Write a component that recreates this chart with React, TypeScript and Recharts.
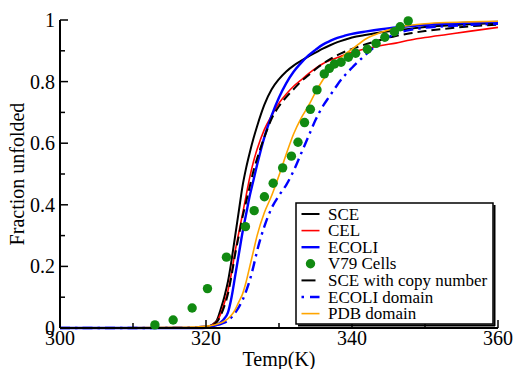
import React from 'react';
import { ComposedChart, Line, Scatter, XAxis, YAxis, Legend } from 'recharts';

const TEMPS = [300, 310, 316, 318, 319, 320, 320.5, 321, 321.5, 322, 322.5, 323, 323.5, 324, 324.5, 325, 325.5, 326, 326.5, 327, 328, 329, 330, 331, 332, 333, 334, 335, 336, 337, 338, 339, 340, 342, 344, 346, 348, 350, 353, 356, 360];

const SCE = [0, 0, 0, 0, 0.001, 0.003, 0.007, 0.013, 0.025, 0.06, 0.1, 0.15, 0.22, 0.3, 0.38, 0.46, 0.52, 0.57, 0.615, 0.655, 0.725, 0.775, 0.808, 0.833, 0.852, 0.867, 0.881, 0.894, 0.907, 0.918, 0.928, 0.936, 0.943, 0.952, 0.96, 0.966, 0.972, 0.977, 0.982, 0.986, 0.99];
const CEL = [0, 0, 0, 0, 0.001, 0.003, 0.006, 0.012, 0.022, 0.045, 0.08, 0.12, 0.18, 0.25, 0.31, 0.37, 0.43, 0.49, 0.54, 0.58, 0.645, 0.69, 0.73, 0.76, 0.785, 0.805, 0.825, 0.843, 0.858, 0.869, 0.878, 0.887, 0.895, 0.907, 0.917, 0.925, 0.935, 0.943, 0.953, 0.963, 0.976];
const ECOLI = [0, 0, 0, 0, 0, 0.001, 0.003, 0.006, 0.01, 0.018, 0.03, 0.05, 0.1, 0.17, 0.24, 0.31, 0.37, 0.43, 0.48, 0.53, 0.62, 0.69, 0.748, 0.795, 0.832, 0.86, 0.884, 0.903, 0.92, 0.932, 0.942, 0.949, 0.955, 0.963, 0.97, 0.976, 0.98, 0.984, 0.988, 0.991, 0.994];
const SCE_COPY = [0, 0, 0, 0, 0.001, 0.002, 0.005, 0.01, 0.02, 0.04, 0.07, 0.11, 0.17, 0.24, 0.3, 0.36, 0.41, 0.46, 0.51, 0.55, 0.62, 0.68, 0.72, 0.75, 0.775, 0.8, 0.82, 0.84, 0.858, 0.873, 0.886, 0.897, 0.906, 0.922, 0.936, 0.948, 0.957, 0.964, 0.972, 0.979, 0.985];
const ECOLI_DOMAIN = [0, 0, 0.001, 0.002, 0.003, 0.005, 0.006, 0.008, 0.01, 0.013, 0.017, 0.024, 0.035, 0.05, 0.068, 0.09, 0.12, 0.155, 0.2, 0.25, 0.33, 0.39, 0.43, 0.465, 0.51, 0.565, 0.62, 0.675, 0.72, 0.755, 0.79, 0.82, 0.845, 0.89, 0.93, 0.955, 0.968, 0.975, 0.98, 0.984, 0.988];
const PDB_DOMAIN = [0, 0.001, 0.002, 0.003, 0.004, 0.006, 0.007, 0.009, 0.012, 0.016, 0.022, 0.03, 0.042, 0.06, 0.085, 0.11, 0.15, 0.2, 0.25, 0.3, 0.375, 0.43, 0.495, 0.565, 0.63, 0.68, 0.72, 0.765, 0.805, 0.838, 0.865, 0.888, 0.905, 0.94, 0.96, 0.975, 0.983, 0.988, 0.992, 0.994, 0.996];

const V79_T = [313.0, 315.5, 318.1, 320.2, 322.8, 325.4, 326.6, 328.0, 329.2, 330.5, 331.7, 332.6, 333.5, 334.3, 335.2, 336.2, 336.9, 337.6, 338.5, 339.5, 340.5, 342.1, 343.3, 344.5, 345.8, 346.6, 347.7];
const V79_F = [0.01, 0.026, 0.065, 0.128, 0.23, 0.329, 0.381, 0.426, 0.47, 0.52, 0.558, 0.603, 0.667, 0.71, 0.773, 0.825, 0.843, 0.857, 0.863, 0.879, 0.892, 0.905, 0.924, 0.944, 0.962, 0.978, 0.997];

const X_TICKS = [300, 310, 320, 330, 340, 350, 360];
const Y_TICKS = [0, 0.1, 0.2, 0.3, 0.4, 0.5, 0.6, 0.7, 0.8, 0.9, 1];

const SERIES_NAMES = ['SCE', 'CEL', 'ECOLI', 'V79 Cells', 'SCE with copy number', 'ECOLI domain', 'PDB domain'];
const SERIES_COLORS = ['#000000', '#ff0000', '#0000ff', '#118a11', '#000000', '#0000ff', '#ffa500'];
const SERIES_WIDTHS = [2, 1.6, 2.4, 0, 2, 2.4, 1.6];
const SERIES_DASH = ['', '', '', '', '9 5', '10 5 2.5 5', ''];
const LEGEND_DASH = ['', '', '', '', '14 10', '2.5 6 10 5', ''];

const FONT = "'Liberation Serif', 'DejaVu Serif', serif";
const TXT = { fontFamily: FONT };

const rows = TEMPS.map((t, i) => ({
  t,
  sce: SCE[i],
  cel: CEL[i],
  ecoli: ECOLI[i],
  sceCopy: SCE_COPY[i],
  ecoliDomain: ECOLI_DOMAIN[i],
  pdb: PDB_DOMAIN[i],
}));

const v79 = V79_T.map((t, i) => ({ t, f: V79_F[i] }));

const isMajorX = (v: number) => Math.round(v) % 20 === 0;
const isMajorY = (v: number) => Math.round(v * 10) % 2 === 0;

const BottomTick = (props: any) => {
  const { x, y, payload } = props;
  const v = payload.value;
  const major = isMajorX(v);
  return (
    <g>
      <line x1={x} y1={y} x2={x} y2={y - (major ? 8 : 5)} stroke="#000" strokeWidth={1.5} />
      {major && (
        <text x={x} y={y + 17} textAnchor="middle" fontSize={20} style={TXT} fill="#000">
          {v}
        </text>
      )}
    </g>
  );
};

const TopTick = (props: any) => {
  const { x, y, payload } = props;
  const major = isMajorX(payload.value);
  return <line x1={x} y1={y} x2={x} y2={y + (major ? 8 : 5)} stroke="#000" strokeWidth={1.5} />;
};

const LeftTick = (props: any) => {
  const { x, y, payload } = props;
  const v = payload.value;
  const major = isMajorY(v);
  return (
    <g>
      <line x1={x} y1={y} x2={x + (major ? 8 : 5)} y2={y} stroke="#000" strokeWidth={1.5} />
      {major && (
        <text x={x - 5} y={y + 7} textAnchor="end" fontSize={20} style={TXT} fill="#000">
          {String(v)}
        </text>
      )}
    </g>
  );
};

const RightTick = (props: any) => {
  const { x, y, payload } = props;
  const major = isMajorY(payload.value);
  return <line x1={x} y1={y} x2={x - (major ? 8 : 5)} y2={y} stroke="#000" strokeWidth={1.5} />;
};

const LegendBox = () => {
  const rowH = 16.6;
  return (
    <svg width={202} height={126} style={{ display: 'block', overflow: 'visible' }}>
      <rect x={1} y={1} width={197} height={121} fill="#fff" stroke="#000" strokeWidth={1.5} />
      <line x1={199.5} y1={3} x2={199.5} y2={124} stroke="#000" strokeWidth={2} />
      <line x1={3} y1={123.5} x2={200} y2={123.5} stroke="#000" strokeWidth={2} />
      {SERIES_NAMES.map((name, i) => {
        const cy = 12 + i * rowH;
        return (
          <g key={name}>
            {SERIES_WIDTHS[i] === 0 ? (
              <circle cx={15.5} cy={cy} r={4.7} fill={SERIES_COLORS[i]} />
            ) : (
              <line
                x1={6.5}
                y1={cy}
                x2={24.5}
                y2={cy}
                stroke={SERIES_COLORS[i]}
                strokeWidth={SERIES_WIDTHS[i]}
                strokeDasharray={LEGEND_DASH[i] || undefined}
              />
            )}
            <text x={33} y={cy + 5.5} fontSize={17} style={TXT} fill="#000">
              {name}
            </text>
          </g>
        );
      })}
    </svg>
  );
};

const DotShape = (props: any) => {
  const { cx, cy } = props;
  return <circle cx={cx} cy={cy} r={4.7} fill={SERIES_COLORS[3]} />;
};

export default function App() {
  return (
    <div style={{ position: 'absolute', left: 0, top: 0, width: 517, height: 369, background: '#fff', fontFamily: FONT }}>
      <ComposedChart
        width={517}
        height={369}
        data={rows}
        margin={{ top: 20, right: 19, bottom: 0, left: 0 }}
        style={{ fontFamily: FONT }}
      >
        <XAxis
          xAxisId="b"
          dataKey="t"
          type="number"
          domain={[300, 360]}
          ticks={X_TICKS}
          interval={0}
          height={41}
          tickSize={0}
          tickMargin={0}
          tickLine={false}
          axisLine={{ stroke: '#000', strokeWidth: 2 }}
          tick={BottomTick}
          label={{ value: 'Temp(K)', position: 'insideBottom', offset: 3, fontSize: 20, fill: '#000', style: { fontFamily: FONT } }}
        />
        <XAxis
          xAxisId="top"
          dataKey="t"
          type="number"
          orientation="top"
          domain={[300, 360]}
          ticks={X_TICKS}
          interval={0}
          height={0}
          tickSize={0}
          tickMargin={0}
          tickLine={false}
          axisLine={{ stroke: '#000', strokeWidth: 2 }}
          tick={TopTick}
        />
        <YAxis
          yAxisId="l"
          dataKey="f"
          type="number"
          domain={[0, 1]}
          ticks={Y_TICKS}
          interval={0}
          width={60}
          tickSize={0}
          tickMargin={0}
          tickLine={false}
          axisLine={{ stroke: '#000', strokeWidth: 2 }}
          tick={LeftTick}
          label={{ value: 'Fraction unfolded', angle: -90, position: 'insideLeft', offset: 17, fontSize: 20, fill: '#000', style: { textAnchor: 'middle', fontFamily: FONT } }}
        />
        <YAxis
          yAxisId="r"
          type="number"
          orientation="right"
          domain={[0, 1]}
          ticks={Y_TICKS}
          interval={0}
          width={0}
          tickSize={0}
          tickMargin={0}
          tickLine={false}
          axisLine={{ stroke: '#000', strokeWidth: 2 }}
          tick={RightTick}
        />
        <Line xAxisId="b" yAxisId="l" dataKey="sce" name={SERIES_NAMES[0]} type="monotone" stroke={SERIES_COLORS[0]} strokeWidth={SERIES_WIDTHS[0]} dot={false} activeDot={false} isAnimationActive={false} />
        <Line xAxisId="b" yAxisId="l" dataKey="cel" name={SERIES_NAMES[1]} type="monotone" stroke={SERIES_COLORS[1]} strokeWidth={SERIES_WIDTHS[1]} dot={false} activeDot={false} isAnimationActive={false} />
        <Line xAxisId="b" yAxisId="l" dataKey="ecoli" name={SERIES_NAMES[2]} type="monotone" stroke={SERIES_COLORS[2]} strokeWidth={SERIES_WIDTHS[2]} dot={false} activeDot={false} isAnimationActive={false} />
        <Scatter xAxisId="b" yAxisId="l" data={v79} dataKey="f" name={SERIES_NAMES[3]} fill={SERIES_COLORS[3]} shape={DotShape} isAnimationActive={false} />
        <Line xAxisId="b" yAxisId="l" dataKey="sceCopy" name={SERIES_NAMES[4]} type="monotone" stroke={SERIES_COLORS[4]} strokeWidth={SERIES_WIDTHS[4]} strokeDasharray={SERIES_DASH[4]} dot={false} activeDot={false} isAnimationActive={false} />
        <Line xAxisId="b" yAxisId="l" dataKey="ecoliDomain" name={SERIES_NAMES[5]} type="monotone" stroke={SERIES_COLORS[5]} strokeWidth={SERIES_WIDTHS[5]} strokeDasharray={SERIES_DASH[5]} dot={false} activeDot={false} isAnimationActive={false} />
        <Line xAxisId="b" yAxisId="l" dataKey="pdb" name={SERIES_NAMES[6]} type="monotone" stroke={SERIES_COLORS[6]} strokeWidth={SERIES_WIDTHS[6]} dot={false} activeDot={false} isAnimationActive={false} />
        <Legend
          layout="vertical"
          align="center"
          verticalAlign="middle"
          content={LegendBox}
          wrapperStyle={{ position: 'absolute', left: 295, top: 202, width: 202, height: 126 }}
        />
      </ComposedChart>
    </div>
  );
}
